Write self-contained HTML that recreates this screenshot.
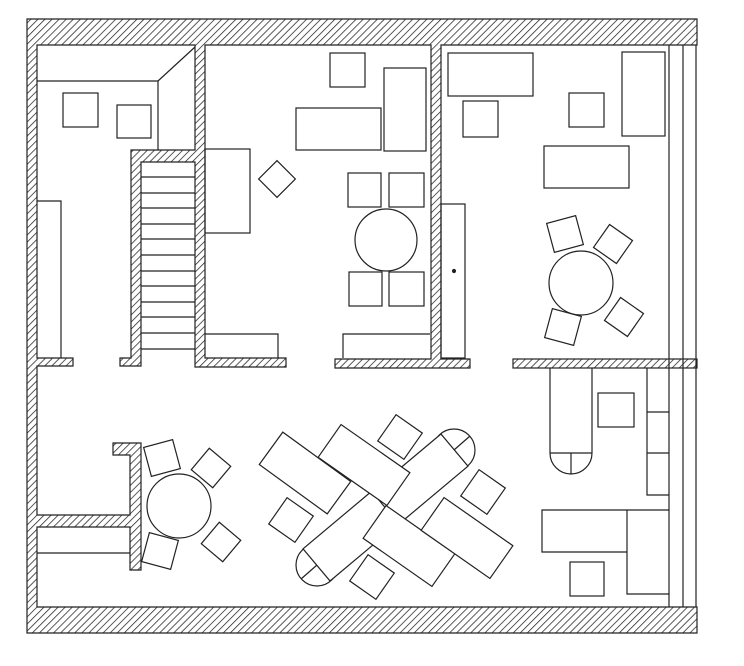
<!DOCTYPE html>
<html><head><meta charset="utf-8"><style>
html,body{margin:0;padding:0;background:#fff;}
svg{display:block;}
</style></head><body>
<svg width="744" height="666" viewBox="0 0 744 666" xmlns="http://www.w3.org/2000/svg">
<defs>
<pattern id="h" width="5" height="5" patternUnits="userSpaceOnUse" patternTransform="rotate(45)">
<line x1="0" y1="0" x2="0" y2="5" stroke="#222" stroke-width="1.5"/>
</pattern>
</defs>
<rect width="744" height="666" fill="#fff"/>
<g fill="url(#h)" stroke="#222" stroke-width="1.2">
<path d="M27,19 H697 V45 H441 V359 H470 V368 H335 V359 H431 V45 H205 V358 H286 V367 H195 V162 H141 V366 H120 V358 H131 V150 H195 V45 H37 V358 H73 V366 H37 V515 H130 V455 H113 V443 H141 V570 H130 V527 H37 V607 H697 V633 H27 Z"/>
<rect x="513" y="359" width="184" height="9"/>
</g>
<g fill="none" stroke="#222" stroke-width="1.2">
<polyline points="37,81 158,81 195,47"/>
<line x1="158" y1="81" x2="158" y2="150"/>
<rect x="63" y="93" width="35" height="34"/>
<rect x="117" y="105" width="34" height="33"/>
<polyline points="37,201 61,201 61,358"/>
<g>
<line x1="141" y1="177" x2="195" y2="177"/>
<line x1="141" y1="193" x2="195" y2="193"/><line x1="141" y1="208" x2="195" y2="208"/>
<line x1="141" y1="224" x2="195" y2="224"/><line x1="141" y1="239" x2="195" y2="239"/>
<line x1="141" y1="255" x2="195" y2="255"/><line x1="141" y1="271" x2="195" y2="271"/>
<line x1="141" y1="286" x2="195" y2="286"/><line x1="141" y1="302" x2="195" y2="302"/>
<line x1="141" y1="317" x2="195" y2="317"/><line x1="141" y1="333" x2="195" y2="333"/>
<line x1="141" y1="349" x2="195" y2="349"/>
</g>
<rect x="205" y="149" width="45" height="84"/>
<rect x="-13" y="-13" width="26" height="26" transform="translate(277,179) rotate(45)"/>
<rect x="330" y="53" width="35" height="34"/>
<rect x="296" y="108" width="85" height="42"/>
<rect x="384" y="68" width="42" height="83"/>
<rect x="348" y="173" width="33" height="34"/>
<rect x="389" y="173" width="35" height="34"/>
<circle cx="386" cy="240" r="31"/>
<rect x="349" y="272" width="33" height="34"/>
<rect x="389" y="272" width="35" height="34"/>
<polyline points="343,358 343,334 430,334"/>
<polyline points="205,334 278,334 278,358"/>
<rect x="441" y="204" width="24" height="154"/>
<circle cx="454" cy="271" r="1.5" fill="#222"/>
<rect x="448" y="53" width="85" height="43"/>
<rect x="463" y="101" width="35" height="36"/>
<rect x="569" y="93" width="35" height="34"/>
<rect x="622" y="52" width="43" height="84"/>
<rect x="544" y="146" width="85" height="42"/>
<circle cx="581" cy="283" r="32"/>
<rect x="-15" y="-15" width="30" height="30" transform="translate(565,234) rotate(-15)"/>
<rect x="-14" y="-14" width="28" height="28" transform="translate(613,244) rotate(35)"/>
<rect x="-15" y="-15" width="30" height="30" transform="translate(563,327) rotate(15)"/>
<rect x="-14" y="-14" width="28" height="28" transform="translate(624,317) rotate(35)"/>
<line x1="669" y1="45" x2="669" y2="607"/>
<line x1="683" y1="45" x2="683" y2="607"/>
<line x1="696" y1="45" x2="696" y2="607"/>
<path d="M550,368 V453 A21,21 0 0 0 592,453 V368"/>
<line x1="550" y1="453" x2="592" y2="453"/>
<line x1="571" y1="453" x2="571" y2="474"/>
<rect x="598" y="393" width="36" height="34"/>
<polyline points="647,368 647,495 669,495"/>
<line x1="647" y1="412" x2="669" y2="412"/>
<line x1="647" y1="453" x2="669" y2="453"/>
<polyline points="627,552 542,552 542,510 669,510"/>
<polyline points="627,510 627,594 669,594"/>
<rect x="570" y="562" width="34" height="34"/>
<line x1="37" y1="553" x2="130" y2="553"/>
<circle cx="179" cy="506" r="32"/>
<rect x="-15" y="-15" width="30" height="30" transform="translate(162,458) rotate(-15)"/>
<rect x="-14" y="-14" width="28" height="28" transform="translate(211,468) rotate(40)"/>
<rect x="-15" y="-15" width="30" height="30" transform="translate(160,551) rotate(15)"/>
<rect x="-14" y="-14" width="28" height="28" transform="translate(221,542) rotate(40)"/>
</g>
<g fill="#fff" stroke="#222" stroke-width="1.2">
<circle cx="317" cy="565" r="21"/>
<circle cx="454" cy="450" r="21"/>
<rect x="-45" y="-21" width="90" height="42" transform="translate(351,536) rotate(-40)"/>
<rect x="-45" y="-21" width="90" height="42" transform="translate(420,479) rotate(-40)"/>
<line x1="317" y1="565" x2="301" y2="579"/>
<line x1="454" y1="450" x2="470" y2="436"/>
<rect x="-42" y="-20" width="84" height="40" transform="translate(305,473) rotate(36)"/>
<rect x="-42" y="-20" width="84" height="40" transform="translate(364,465) rotate(35)"/>
<rect x="-42" y="-20" width="84" height="40" transform="translate(409,546) rotate(35)"/>
<rect x="-42" y="-20" width="84" height="40" transform="translate(467,538) rotate(35)"/>
<rect x="-16" y="-16" width="32" height="32" transform="translate(400,437) rotate(35)"/>
<rect x="-16" y="-16" width="32" height="32" transform="translate(291,520) rotate(35)"/>
<rect x="-16" y="-16" width="32" height="32" transform="translate(483,492) rotate(35)"/>
<rect x="-16" y="-16" width="32" height="32" transform="translate(372,577) rotate(35)"/>
</g>
</svg>
</body></html>
